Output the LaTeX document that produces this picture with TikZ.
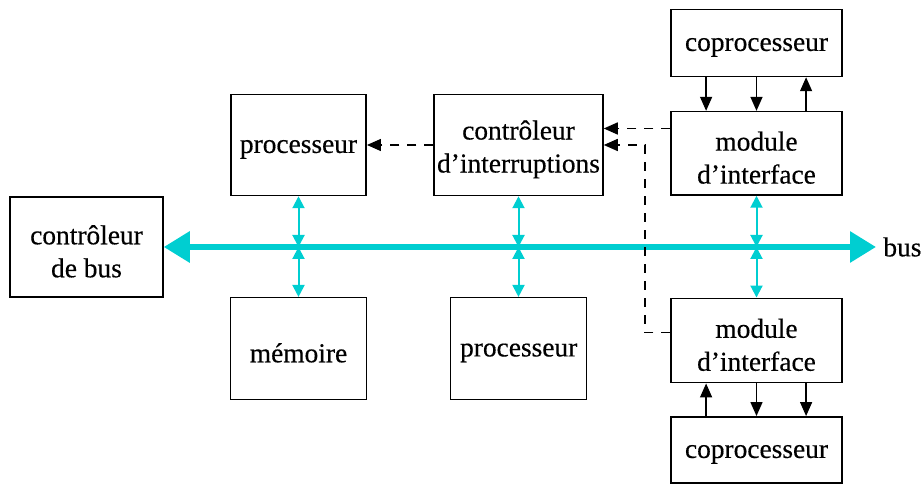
\documentclass[tikz,border=0pt]{standalone}
\usepackage{fontspec}
\setmainfont[FakeBold=0.4]{Liberation Serif}
\usetikzlibrary{arrows.meta}
\definecolor{buscol}{RGB}{0,206,209}
\tikzset{
  block/.style={draw=black, line width=0.75pt, inner sep=0pt},
  lbl/.style={font=\fontsize{13.7}{16.5}\selectfont, align=center, inner sep=0pt,
    yshift=-2.2pt},
  busline/.style={draw=buscol, line width=3pt,
    {Triangle[length=13pt,width=15pt]}-{Triangle[length=13pt,width=15pt]}},
  tap/.style={draw=buscol, line width=1pt,
    {Triangle[length=6pt,width=6pt]}-{Triangle[length=6pt,width=6pt]}},
  link/.style={draw=black, line width=0.7pt, -{Triangle[length=7pt,width=6pt]}},
  irq/.style={draw=black, line width=0.7pt, dash pattern=on 4.5pt off 4pt,
    -{Triangle[length=7pt,width=6pt]}},
}
\begin{document}
\begin{tikzpicture}[x=0.5pt,y=-0.5pt]
\useasboundingbox (0,0) rectangle (923,485);

% blocks, each with its caption centred inside
\node[block, minimum width=76.5pt, minimum height=50pt,
  label={[lbl]center:contrôleur\\de bus}] (cb) at (86.5,247) {};
\node[block, minimum width=67.7pt, minimum height=50.5pt,
  label={[lbl]center:processeur}] (p1) at (298.5,145) {};
\node[block, minimum width=68pt, minimum height=50.8pt,
  label={[lbl]center:mémoire}] (mem) at (298.5,348.5) {};
\node[block, minimum width=84.5pt, minimum height=50.5pt,
  label={[lbl]center:contrôleur\\d’interruptions}] (ci) at (518.5,145) {};
\node[block, minimum width=68pt, minimum height=50.8pt,
  label={[lbl]center:processeur}] (p2) at (518.7,348.5) {};
\node[block, minimum width=85.3pt, minimum height=41.7pt,
  label={[lbl]center:module\\d’interface}] (m1) at (756.5,153.3) {};
\node[block, minimum width=85.3pt, minimum height=33.5pt,
  label={[lbl]center:coprocesseur}] (c1) at (756.5,43) {};
\node[block, minimum width=85.3pt, minimum height=42.2pt,
  label={[lbl]center:module\\d’interface}] (m2) at (756.5,340.5) {};
\node[block, minimum width=85.3pt, minimum height=33.2pt,
  label={[lbl]center:coprocesseur}] (c2) at (756.5,450) {};
\node[lbl, anchor=west, yshift=2.2pt] (buslbl) at (883,247) {bus};

% system bus
\coordinate (busend) at (876,247);
\draw[busline] (cb.east) -- (busend);
\coordinate (j1) at (298.5,247);
\coordinate (j2) at (518.5,247);
\coordinate (j3) at (756.5,247);

% bus taps
\draw[tap] (p1.south) -- (j1);
\draw[tap] (j1) -- (mem.north);
\draw[tap] (ci.south) -- (j2);
\draw[tap] (j2) -- (p2.north -| j2);
\draw[tap] (m1.south) -- (j3);
\draw[tap] (j3) -- (m2.north);

% coprocessor links, upper pair
\draw[link] ([xshift=-25.2pt]c1.south) -- ([xshift=-25.2pt]m1.north);
\draw[link] (c1.south) -- (m1.north);
\draw[link] ([xshift=24.8pt]m1.north) -- ([xshift=24.8pt]c1.south);

% coprocessor links, lower pair
\draw[link] ([xshift=-25.2pt]c2.north) -- ([xshift=-25.2pt]m2.south);
\draw[link] (m2.south) -- (c2.north);
\draw[link] ([xshift=24.8pt]m2.south) -- ([xshift=24.8pt]c2.north);

% interrupt lines
\draw[irq] (ci.west) -- (p1.east);
\draw[irq] (m1.west |- 0,128.5) -- (ci.east |- 0,128.5);
\coordinate (bend1) at (645,332.3);
\coordinate (bend2) at (645,145);
\draw[irq] (m2.west |- bend1) -- (bend1) -- (bend2) -- (ci.east |- bend2);
\end{tikzpicture}
\end{document}
